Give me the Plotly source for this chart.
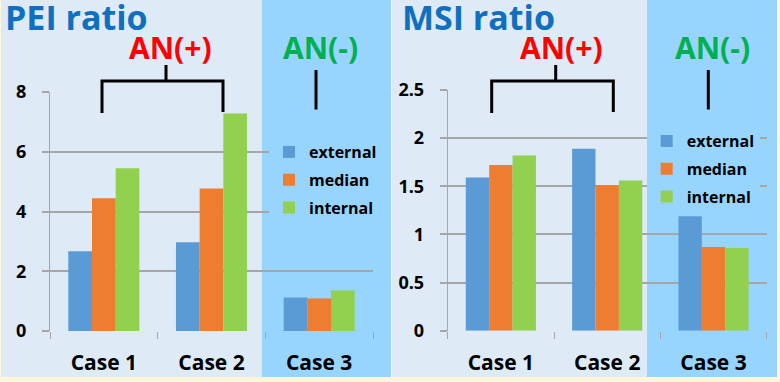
import plotly.graph_objects as go

cases = ["Case 1", "Case 2", "Case 3"]
series_names = ["external", "median", "internal"]
pei_external = [2.67, 2.97, 1.12]
pei_median = [4.44, 4.77, 1.09]
pei_internal = [5.45, 7.28, 1.36]
msi_external = [1.59, 1.89, 1.19]
msi_median = [1.72, 1.51, 0.87]
msi_internal = [1.82, 1.56, 0.86]
colors = ["#5B9BD5", "#ED7D31", "#92D050"]

W, H = 780, 382
def px(x):
    return x / W
def py(y):
    return 1 - y / H

FONT = "Open Sans"
LIGHT = "#DEEBF7"
BRIGHT = "#98D5FE"
CREAM = "#FFF7DC"
GRID = "#A6A6A6"

fig = go.Figure()

pei = [pei_external, pei_median, pei_internal]
msi = [msi_external, msi_median, msi_internal]
for i, name in enumerate(series_names):
    fig.add_trace(go.Bar(x=cases, y=pei[i], name=name, marker=dict(color=colors[i], line=dict(width=0)),
                         xaxis="x", yaxis="y", legend="legend", legendgroup="L" + name))
for i, name in enumerate(series_names):
    fig.add_trace(go.Bar(x=cases, y=msi[i], name=name, marker=dict(color=colors[i], line=dict(width=0)),
                         xaxis="x2", yaxis="y2", legend="legend2", legendgroup="R" + name))

tickfont = dict(family=FONT, size=18, color="black", weight="bold")
catfont = dict(family=FONT, size=21, color="black", weight="bold")

def xaxis(dom, anchor):
    return dict(domain=dom, anchor=anchor, type="category", tickson="boundaries", ticks="outside", ticklen=7,
                tickcolor=GRID, tickwidth=1, showline=False, showgrid=False, tickfont=catfont,
                ticklabelstandoff=17, fixedrange=True, automargin=False)

def yaxis(dom, anchor, rng, dt):
    return dict(domain=dom, anchor=anchor, range=rng, dtick=dt, ticks="outside", ticklen=7, tickcolor=GRID,
                tickwidth=1.5, showgrid=True, gridcolor=GRID, gridwidth=1.5, showline=True, linecolor=GRID,
                linewidth=1, zeroline=False, tickfont=tickfont, ticklabelstandoff=12, fixedrange=True,
                automargin=False)

legend_common = dict(bgcolor=BRIGHT, borderwidth=0, font=dict(family=FONT, size=16, color="black", weight="bold"),
                     xanchor="left", yanchor="top", tracegroupgap=4, itemwidth=30)

shapes = [
    dict(type="rect", xref="paper", yref="paper", x0=px(1), x1=px(262), y0=py(377), y1=py(0),
         fillcolor=LIGHT, line=dict(width=0), layer="below"),
    dict(type="rect", xref="paper", yref="paper", x0=px(262), x1=px(391), y0=py(377), y1=py(0),
         fillcolor=BRIGHT, line=dict(width=0), layer="below"),
    dict(type="rect", xref="paper", yref="paper", x0=px(392), x1=px(647), y0=py(377), y1=py(0),
         fillcolor=LIGHT, line=dict(width=0), layer="below"),
    dict(type="rect", xref="paper", yref="paper", x0=px(647), x1=px(777), y0=py(377), y1=py(0),
         fillcolor=BRIGHT, line=dict(width=0), layer="below"),
]

def bracket(xl, xr, xs):
    p = "M {a},{b} L {c},{d} M {e},{f} L {e},{g} L {h},{g} L {h},{i}".format(
        a=px(xs), b=py(65), c=px(xs), d=py(81),
        e=px(xl), f=py(113), g=py(81), h=px(xr), i=py(112))
    return dict(type="path", xref="paper", yref="paper", path=p, line=dict(color="black", width=3))

def vline(x):
    return dict(type="line", xref="paper", yref="paper", x0=px(x), x1=px(x), y0=py(70), y1=py(109.5),
                line=dict(color="black", width=3))

shapes += [bracket(102, 223, 166), vline(316), bracket(491.7, 613.3, 555.7), vline(708.3)]

def ann(text, x, y, size, color, anchor="center"):
    return dict(text=text, x=px(x), y=py(y), xref="paper", yref="paper", xanchor=anchor, yanchor="middle",
                showarrow=False, font=dict(family=FONT, size=size, color=color, weight="bold"))

annotations = [
    ann("PEI ratio", 3, 17.5, 34, "#1070C0", "left"),
    ann("MSI ratio", 400, 17.5, 34, "#1070C0", "left"),
    ann("AN(+)", 170.8, 47, 30, "#FF0000"),
    ann("AN(-)", 320.5, 47, 30, "#00B050"),
    ann("AN(+)", 561.7, 47, 30, "#FF0000"),
    ann("AN(-)", 712.5, 47, 30, "#00B050"),
]

fig.update_layout(
    width=W, height=H, margin=dict(l=0, r=0, t=0, b=0, pad=0, autoexpand=False), autosize=False,
    paper_bgcolor=CREAM, plot_bgcolor="rgba(0,0,0,0)",
    barmode="group", bargap=0.34, bargroupgap=0,
    xaxis=xaxis([px(50), px(373)], "y"),
    yaxis=yaxis([py(331), py(92)], "x", [0, 8], 2),
    xaxis2=xaxis([px(447.7), px(766.7)], "y2"),
    yaxis2=yaxis([py(330.7), py(90)], "x2", [0, 2.5], 0.5),
    legend=dict(x=px(269), y=py(135), **legend_common),
    legend2=dict(x=px(646.7), y=py(124), **legend_common),
    shapes=shapes, annotations=annotations, showlegend=True,
)

fig.write_html("out.html", config={"displayModeBar": False},
               post_script="document.body.style.margin='0';document.body.style.background='" + CREAM + "';")
